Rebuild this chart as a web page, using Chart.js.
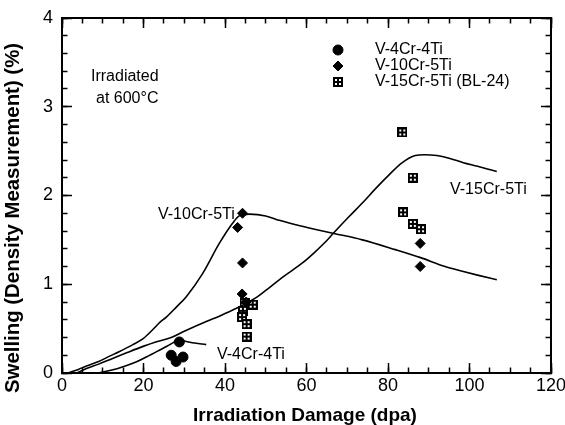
<!DOCTYPE html>
<html>
<head>
<meta charset="utf-8">
<script src="https://cdn.jsdelivr.net/npm/chart.js@4/dist/chart.umd.min.js"></script>
<style>
  html, body { margin: 0; padding: 0; background: #fff; }
  canvas { display: block; }
</style>
</head>
<body>
<canvas id="swelling-chart" width="565" height="425"></canvas>
<script>
// measured swelling, density method
const v4CrDpa = [26.8, 28.0, 29.7, 28.8];
const v4CrSwell = [0.20, 0.13, 0.18, 0.35];
const v10CrDpa = [44.3, 43.1, 44.3, 44.2, 45.2, 87.9, 87.9];
const v10CrSwell = [1.80, 1.64, 1.24, 0.89, 0.80, 1.46, 1.20];
const v15CrDpa = [83.5, 86.1, 83.7, 86.1, 88.1, 44.8, 46.8, 44.4, 44.2, 45.3, 45.3];
const v15CrSwell = [2.71, 2.20, 1.81, 1.68, 1.62, 0.79, 0.77, 0.70, 0.63, 0.55, 0.41];

// trend curves
const curve4CrDpa = [9, 12, 15, 18, 20.7, 24, 27.2, 28.5, 30, 32, 35.4];
const curve4CrSwell = [0, 0.03, 0.07, 0.12, 0.18, 0.26, 0.34, 0.38, 0.36, 0.34, 0.32];
const curve10CrDpa = [1.5, 4, 6, 9, 11.7, 14, 17.4, 20, 22.3, 24, 25.6, 28, 30.5, 34.5, 38.6, 41.9, 43.5, 46, 50, 53.3, 57.4, 62, 67, 73.7, 81.8, 88, 94, 98, 102.2, 106.7];
const curve10CrSwell = [0, 0.04, 0.08, 0.13, 0.19, 0.24, 0.32, 0.39, 0.49, 0.57, 0.63, 0.74, 0.86, 1.12, 1.46, 1.69, 1.77, 1.79, 1.77, 1.72, 1.67, 1.62, 1.57, 1.50, 1.39, 1.30, 1.20, 1.15, 1.10, 1.05];
const curve15CrDpa = [3.6, 6, 9, 11.7, 16, 19.9, 23, 26.8, 30, 35.4, 38.6, 41.9, 45, 48, 50, 53.3, 56, 59, 62, 64.5, 66.7, 70.4, 74, 77, 80.2, 83.5, 86.7, 89, 92, 95, 98.5, 102, 106.7];
const curve15CrSwell = [0, 0.05, 0.10, 0.15, 0.23, 0.30, 0.35, 0.40, 0.47, 0.58, 0.64, 0.71, 0.78, 0.86, 0.93, 1.05, 1.14, 1.24, 1.36, 1.47, 1.58, 1.76, 1.93, 2.08, 2.23, 2.37, 2.45, 2.46, 2.45, 2.42, 2.37, 2.33, 2.27];

const FONT = "'Liberation Sans', Arial, Helvetica, sans-serif";
const MINOR_LEN = 5.5;
const MAJOR_LEN = 10;

const toPoints = (xs, ys) => xs.map((x, i) => ({ x: x, y: ys[i] }));

// square with a cross in it
const boxMark = document.createElement('canvas');
boxMark.width = 10;
boxMark.height = 10;
(function () {
    const c = boxMark.getContext('2d');
    c.fillStyle = '#000';
    c.fillRect(0, 0, 10, 10);
    c.fillStyle = '#fff';
    c.fillRect(2, 2, 2, 2);
    c.fillRect(6, 2, 2, 2);
    c.fillRect(2, 6, 2, 2);
    c.fillRect(6, 6, 2, 2);
})();

const curveStyle = {
    type: 'line',
    showLine: true,
    borderColor: '#000',
    borderWidth: 1.6,
    pointRadius: 0,
    cubicInterpolationMode: 'monotone',
    fill: false
};

// inward tick marks (negative length points into the plot)
function tickGrid(len) {
    return {
        display: true,
        drawOnChartArea: false,
        drawTicks: true,
        tickLength: -len,
        tickWidth: 1.5,
        tickColor: '#000'
    };
}

// extra axis that only adds tick marks / frame, takes no room
function extraAxis(position, max, step, len, withBorder) {
    const horizontal = position === 'top' || position === 'bottom';
    return {
        type: 'linear',
        position: position,
        weight: 0,
        min: 0,
        max: max,
        ticks: { display: false, stepSize: step, autoSkip: false },
        grid: tickGrid(len),
        border: { display: withBorder, color: '#000', width: 2 },
        afterFit: (scale) => {
            if (horizontal) {
                scale.height = 0;
            } else {
                scale.width = 0;
            }
            scale.paddingLeft = 0;
            scale.paddingRight = 0;
            scale.paddingTop = 0;
            scale.paddingBottom = 0;
        }
    };
}

function drawTexts(chart) {
    const c = chart.ctx;
    c.save();
    c.fillStyle = '#000';
    c.textBaseline = 'middle';
    c.textAlign = 'left';
    c.font = '16px ' + FONT;
    c.fillText('Irradiated', 91, 77);
    c.fillText('at 600°C', 96, 99);
    c.fillText('V-10Cr-5Ti', 158, 215);
    c.fillText('V-15Cr-5Ti', 450, 190);
    c.fillText('V-4Cr-4Ti', 217, 355);

    // legend
    const lx = 338;
    const rows = [50, 66, 82];
    c.fillText('V-4Cr-4Ti', 375, rows[0]);
    c.fillText('V-10Cr-5Ti', 375, rows[1]);
    c.fillText('V-15Cr-5Ti (BL-24)', 375, rows[2]);
    c.strokeStyle = '#000';
    c.lineWidth = 1;
    Chart.helpers.drawPoint(c, { pointStyle: 'circle', radius: 5, borderWidth: 1 }, lx, rows[0]);
    Chart.helpers.drawPoint(c, { pointStyle: 'rectRot', radius: 5, borderWidth: 1 }, lx, rows[1]);
    c.drawImage(boxMark, lx - 5, rows[2] - 5);

    // axis titles
    c.textAlign = 'center';
    c.font = 'bold 19px ' + FONT;
    c.fillText('Irradiation Damage (dpa)', 305, 416);
    c.translate(13, 218);
    c.rotate(-Math.PI / 2);
    c.font = 'bold 20.4px ' + FONT;
    c.fillText('Swelling (Density Measurement) (%)', 0, 0);
    c.restore();
}

const textPlugin = {
    id: 'texts',
    afterDraw(chart) {
        drawTexts(chart);
    }
};

const swellingChart = new Chart(document.getElementById('swelling-chart').getContext('2d'), {
    type: 'scatter',
    data: {
        datasets: [
            Object.assign({ label: 'V-10Cr-5Ti curve', data: toPoints(curve10CrDpa, curve10CrSwell) }, curveStyle),
            Object.assign({ label: 'V-15Cr-5Ti curve', data: toPoints(curve15CrDpa, curve15CrSwell) }, curveStyle),
            Object.assign({ label: 'V-4Cr-4Ti curve', data: toPoints(curve4CrDpa, curve4CrSwell) }, curveStyle),
            {
                label: 'V-4Cr-4Ti',
                data: toPoints(v4CrDpa, v4CrSwell),
                pointStyle: 'circle',
                pointRadius: 5,
                backgroundColor: '#000',
                borderColor: '#000',
                borderWidth: 1
            },
            {
                label: 'V-10Cr-5Ti',
                data: toPoints(v10CrDpa, v10CrSwell),
                pointStyle: 'rectRot',
                pointRadius: 5,
                backgroundColor: '#000',
                borderColor: '#000',
                borderWidth: 1
            },
            {
                label: 'V-15Cr-5Ti (BL-24)',
                data: toPoints(v15CrDpa, v15CrSwell),
                pointStyle: boxMark,
                pointRadius: 5
            }
        ]
    },
    options: {
        responsive: false,
        animation: false,
        layout: {
            padding: { top: 18, right: 14, left: 0, bottom: 0 }
        },
        plugins: {
            legend: { display: false },
            tooltip: { enabled: false },
            title: { display: false }
        },
        scales: {
            x: {
                type: 'linear',
                position: 'bottom',
                weight: 1,
                min: 0,
                max: 120,
                ticks: {
                    stepSize: 5,
                    autoSkip: false,
                    maxRotation: 0,
                    color: '#000',
                    font: { family: FONT, size: 18 },
                    padding: 2 + MINOR_LEN,
                    callback: (v) => (v % 20 === 0 ? String(v) : '')
                },
                grid: tickGrid(MINOR_LEN),
                border: { display: true, color: '#000', width: 2 },
                afterFit: (scale) => {
                    scale.height = 52;
                    scale.paddingLeft = 0;
                    scale.paddingRight = 0;
                }
            },
            y: {
                type: 'linear',
                position: 'left',
                weight: 1,
                min: 0,
                max: 4,
                ticks: {
                    stepSize: 0.2,
                    autoSkip: false,
                    color: '#000',
                    font: { family: FONT, size: 18 },
                    padding: 9 + MINOR_LEN,
                    callback: (v) => (Math.abs(v - Math.round(v)) < 1e-6 ? String(Math.round(v)) : '')
                },
                grid: tickGrid(MINOR_LEN),
                border: { display: true, color: '#000', width: 2 },
                afterFit: (scale) => {
                    scale.width = 62;
                    scale.paddingTop = 0;
                    scale.paddingBottom = 0;
                }
            },
            xMajor: extraAxis('bottom', 120, 20, MAJOR_LEN, false),
            xTop: extraAxis('top', 120, 5, MINOR_LEN, true),
            xTopMajor: extraAxis('top', 120, 20, MAJOR_LEN, false),
            yMajor: extraAxis('left', 4, 1, MAJOR_LEN, false),
            yRight: extraAxis('right', 4, 0.2, MINOR_LEN, true),
            yRightMajor: extraAxis('right', 4, 1, MAJOR_LEN, false)
        }
    },
    plugins: [textPlugin]
});
</script>
</body>
</html>
